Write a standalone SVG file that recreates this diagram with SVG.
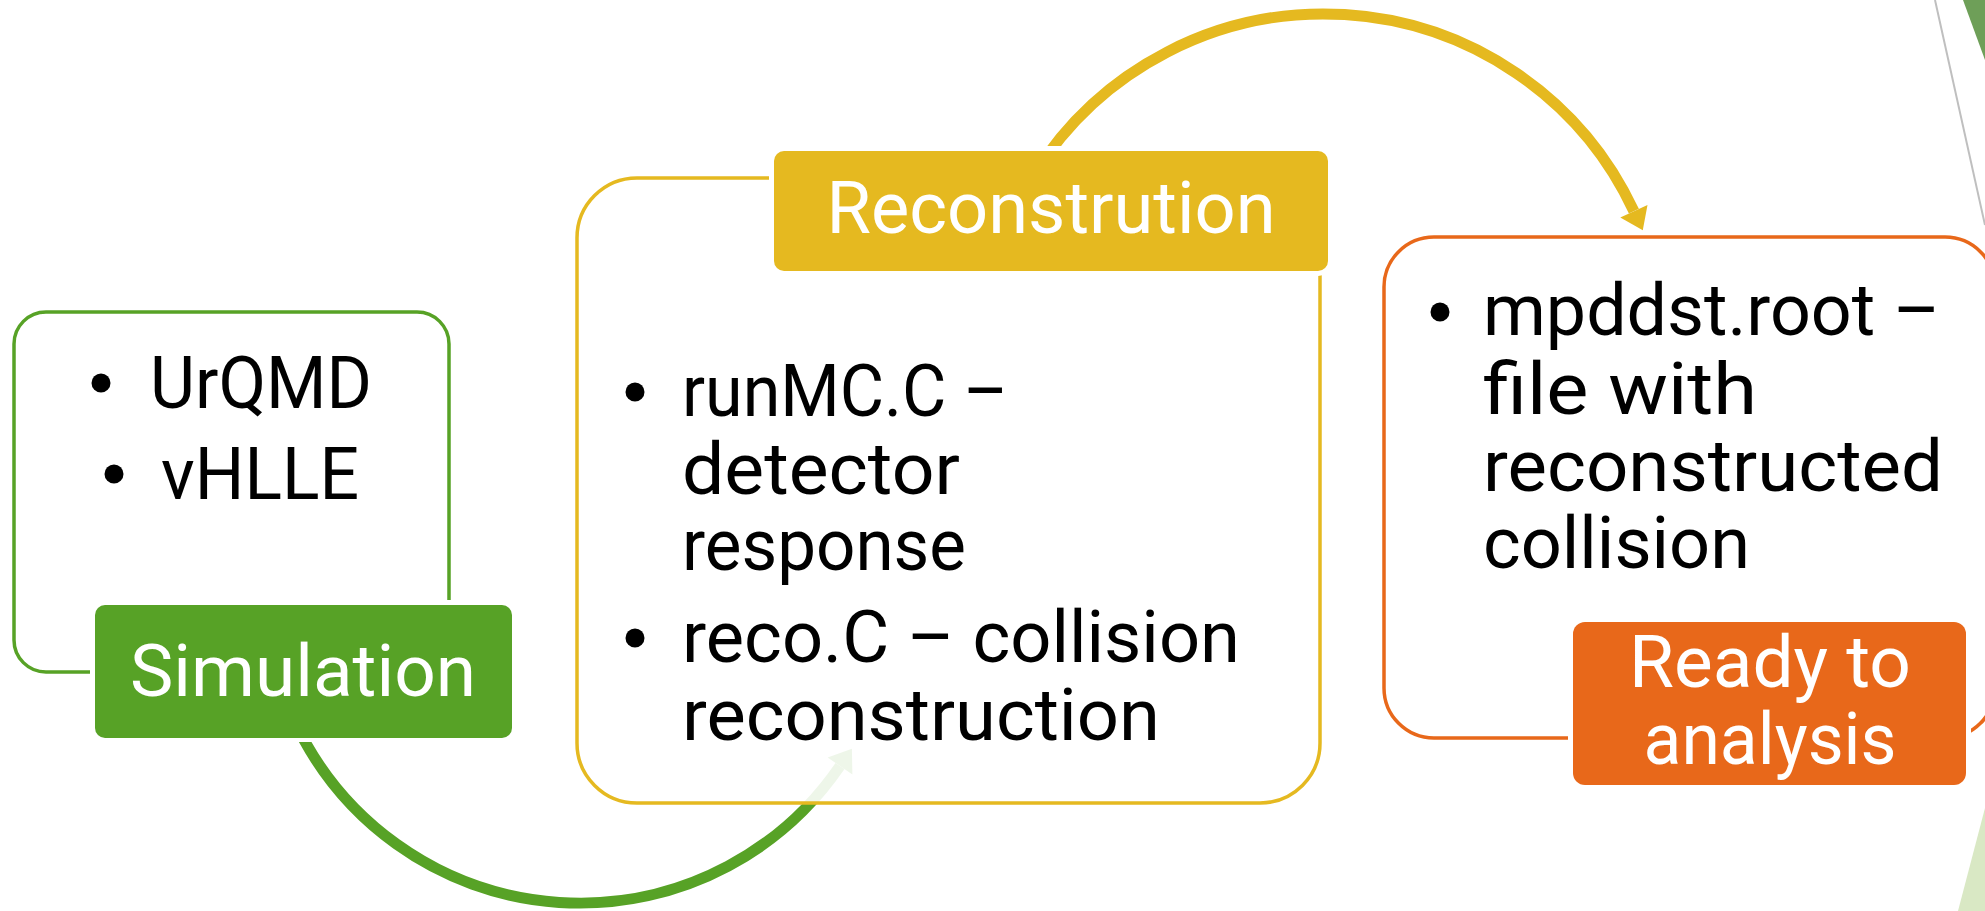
<svg xmlns="http://www.w3.org/2000/svg" width="1985" height="911" viewBox="0 0 1985 911">
<defs>
<style>
.frame{fill:#fff;fill-opacity:0.9;stroke-width:3.5}
.lbl{stroke:#fff;stroke-width:10;paint-order:stroke}
.t{font-family:Roboto,"Liberation Sans",sans-serif;font-size:73px;fill:#000}
.lt{font-family:Roboto,"Liberation Sans",sans-serif;font-size:73px;fill:#fff;text-anchor:middle}
.arc{fill:none;stroke-width:11}
</style>
<clipPath id="gclip"><rect x="0" y="742" width="1985" height="169"/></clipPath>
</defs>
<rect width="1985" height="911" fill="#fff"/>
<g id="decor">
<polygon points="1963,0 1985,0 1985,60" fill="#6E9F58"/>
<polygon points="1958,911 1985,911 1985,808" fill="#D9E8C4"/>
<line x1="1935" y1="0" x2="1985" y2="225" stroke="#BFBFBF" stroke-width="2"/>
</g>
<g id="simulation">
<rect class="frame" x="14" y="312" width="435" height="360" rx="32" stroke="#57A226"/>
<circle cx="101" cy="383" r="9.5"/>
<text class="t" x="150" y="408" textLength="222" lengthAdjust="spacingAndGlyphs">UrQMD</text>
<circle cx="114" cy="474" r="9.5"/>
<text class="t" x="161" y="499" textLength="198" lengthAdjust="spacingAndGlyphs">vHLLE</text>
<rect class="lbl" x="95" y="605" width="417" height="133" rx="10" fill="#57A226"/>
<text class="lt" x="303" y="696" textLength="346" lengthAdjust="spacingAndGlyphs">Simulation</text>
</g>
<g id="connectors">
<g clip-path="url(#gclip)">
<path class="arc" stroke="#57A226" d="M298.8,730 A315,315 0 0 0 840,766"/>
</g>
<polygon fill="#57A226" points="851.9,748.7 827.6,757.5 852.4,774.5"/>
<path class="arc" stroke="#E5B920" d="M1033.8,175 A342,342 0 0 1 1633.9,211.2"/>
<polygon fill="#E5B920" points="1642.8,230.2 1647.5,204.9 1620.3,217.5"/>
</g>
<g id="reconstruction">
<rect class="frame" x="577" y="178" width="743" height="625" rx="60" stroke="#E5B920"/>
<circle cx="635" cy="392" r="9.5"/>
<text class="t" x="682" y="416" textLength="326" lengthAdjust="spacingAndGlyphs">runMC.C –</text>
<text class="t" x="682" y="494" textLength="278" lengthAdjust="spacingAndGlyphs">detector</text>
<text class="t" x="682" y="570" textLength="284" lengthAdjust="spacingAndGlyphs">response</text>
<circle cx="635" cy="638" r="9.5"/>
<text class="t" x="682" y="662" textLength="558" lengthAdjust="spacingAndGlyphs">reco.C – collision</text>
<text class="t" x="682" y="740" textLength="478" lengthAdjust="spacingAndGlyphs">reconstruction</text>
<rect class="lbl" x="774" y="151" width="554" height="120" rx="10" fill="#E5B920"/>
<text class="lt" x="1051" y="233" textLength="449" lengthAdjust="spacingAndGlyphs">Reconstrution</text>
</g>
<g id="ready">
<rect class="frame" x="1384" y="237" width="611" height="501" rx="50" stroke="#E8681A"/>
<circle cx="1440" cy="312" r="9.5"/>
<text class="t" x="1483" y="335" textLength="457" lengthAdjust="spacingAndGlyphs">mpddst.root –</text>
<text class="t" x="1483" y="414" textLength="274" lengthAdjust="spacingAndGlyphs">file with</text>
<text class="t" x="1483" y="491" textLength="460" lengthAdjust="spacingAndGlyphs">reconstructed</text>
<text class="t" x="1483" y="568" textLength="267" lengthAdjust="spacingAndGlyphs">collision</text>
<rect class="lbl" x="1573" y="622" width="393" height="163" rx="12" fill="#E8681A"/>
<text class="lt" x="1770" y="687" textLength="282" lengthAdjust="spacingAndGlyphs">Ready to</text>
<text class="lt" x="1770" y="764" textLength="253" lengthAdjust="spacingAndGlyphs">analysis</text>
</g>
</svg>
